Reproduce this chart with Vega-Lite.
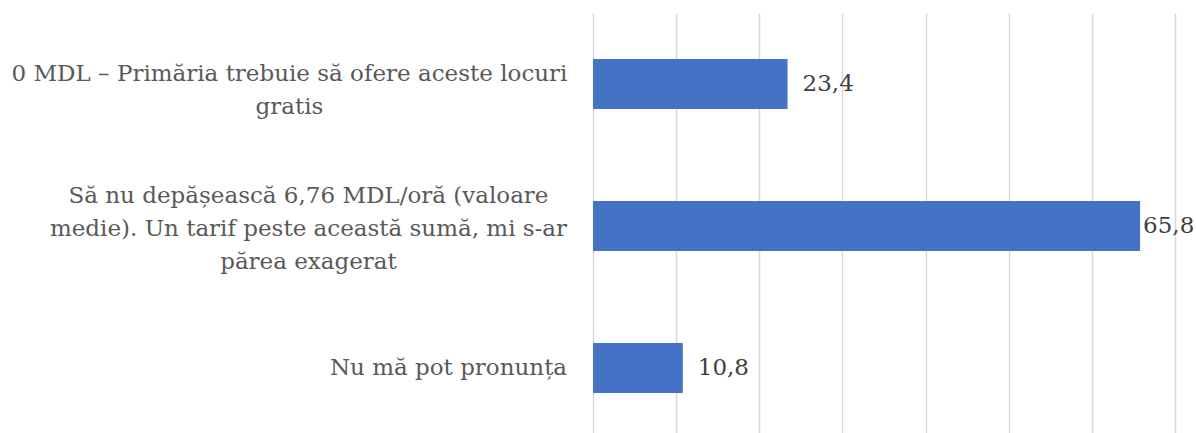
{
  "$schema": "https://vega.github.io/schema/vega-lite/v6.json",
  "autosize": "none",
  "padding": {"left": 593, "top": 13, "right": 21, "bottom": 0},
  "width": 582,
  "height": 426,
  "background": "white",
  "config": {
    "view": {"stroke": null},
    "locale": {"number": {"decimal": ",", "thousands": ".", "grouping": [3], "currency": ["", ""]}},
    "font": "DejaVu Serif"
  },
  "data": {
    "values": [
      {"category": "0 MDL – Primăria trebuie să ofere aceste locuri|gratis", "value": 23.4},
      {"category": "Să nu depășească 6,76 MDL/oră (valoare|medie). Un tarif peste această sumă, mi s-ar|părea exagerat", "value": 65.8},
      {"category": "Nu mă pot pronunța", "value": 10.8}
    ]
  },
  "encoding": {
    "y": {
      "field": "category",
      "type": "nominal",
      "sort": null,
      "scale": {"paddingInner": 0.648, "paddingOuter": 0.324},
      "axis": {
        "title": null,
        "domain": false,
        "ticks": false,
        "labelAlign": "center",
        "labelPadding": {
          "condition": [
            {"test": "length(split(datum.label, '|')) == 3", "value": 285},
            {"test": "length(split(datum.label, '|')) == 2", "value": 304}
          ],
          "value": 145
        },
        "labelFont": "DejaVu Serif",
        "labelFontSize": 23,
        "labelColor": "#595959",
        "labelLimit": 600,
        "labelLineHeight": 33,
        "labelOffset": {
          "condition": [
            {"test": "length(split(datum.label, '|')) == 3", "value": -30},
            {"test": "length(split(datum.label, '|')) == 2", "value": -10}
          ],
          "value": 0
        },
        "labelExpr": "split(datum.label, '|')"
      }
    },
    "x": {
      "field": "value",
      "type": "quantitative",
      "scale": {"domain": [0, 70], "nice": false},
      "axis": {
        "title": null,
        "values": [0, 10, 20, 30, 40, 50, 60, 70],
        "labels": false,
        "ticks": false,
        "domain": false,
        "grid": true,
        "gridColor": "#D9D9D9",
        "gridWidth": 1.5
      }
    }
  },
  "layer": [
    {"mark": {"type": "bar", "color": "#4472C4"}},
    {
      "transform": [{"filter": "datum.value < 60"}],
      "mark": {"type": "text", "align": "left", "baseline": "middle", "dx": 15, "fontSize": 23, "color": "#404040", "font": "DejaVu Serif"},
      "encoding": {"text": {"field": "value", "type": "quantitative", "format": ".1f"}}
    },
    {
      "transform": [{"filter": "datum.value >= 60"}],
      "mark": {"type": "text", "align": "left", "baseline": "middle", "dx": 3, "fontSize": 23, "color": "#404040", "font": "DejaVu Serif"},
      "encoding": {"text": {"field": "value", "type": "quantitative", "format": ".1f"}}
    }
  ]
}
